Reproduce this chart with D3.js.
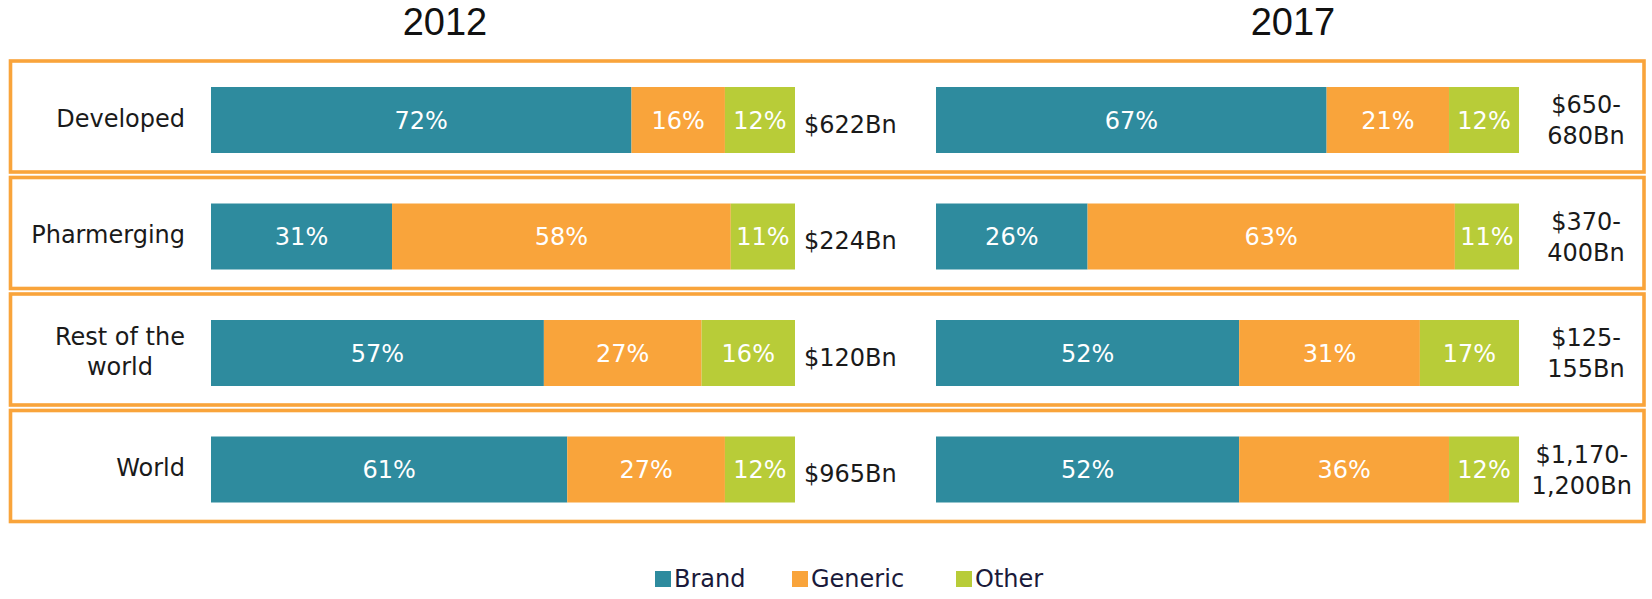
<!DOCTYPE html>
<html>
<head>
<meta charset="utf-8">
<script src="https://cdn.jsdelivr.net/npm/d3@7"></script>
<style>
  html, body { margin: 0; padding: 0; background: #fff; }
  svg { display: block; }
</style>
</head>
<body>
<svg id="chart" width="1652" height="599"></svg>
<script>
// ---- data ----
const categories = ["Developed", "Pharmerging", "Rest of the world", "World"];
const categoryLines = [["Developed"], ["Pharmerging"], ["Rest of the", "world"], ["World"]];
const seriesNames = ["Brand", "Generic", "Other"];
const brand2012 = [72, 31, 57, 61];
const generic2012 = [16, 58, 27, 27];
const other2012 = [12, 11, 16, 12];
const brand2017 = [67, 26, 52, 52];
const generic2017 = [21, 63, 31, 36];
const other2017 = [12, 11, 17, 12];
const spend2012 = [["$622Bn"], ["$224Bn"], ["$120Bn"], ["$965Bn"]];
const spend2017 = [["$650-", "680Bn"], ["$370-", "400Bn"], ["$125-", "155Bn"], ["$1,170-", "1,200Bn"]];
const years = ["2012", "2017"];

// ---- styles ----
const colors = { Brand: "#2E8B9E", Generic: "#F9A43B", Other: "#B8CC38" };
const borderColor = "#F9A43B";
const font = "'DejaVu Sans', Verdana, sans-serif";
const fs = 24;

const svg = d3.select("#chart");

// row scale
const step = 116.5;
const y = d3.scaleBand().domain(categories).range([61, 61 + step * categories.length]).paddingInner(0).paddingOuter(0);
const boxH = 111, barOff = 26, barH = 66;

const x2012 = d3.scaleLinear().domain([0, 100]).range([211, 795]);
const x2017 = d3.scaleLinear().domain([0, 100]).range([936, 1519]);

// boxes
svg.append("g").selectAll("rect").data(categories).join("rect")
  .attr("x", 10.5).attr("y", d => y(d))
  .attr("width", 1644 - 10.5).attr("height", boxH)
  .attr("fill", "none").attr("stroke", borderColor).attr("stroke-width", 3.6);

// titles
const titleX = [445, 1293];
svg.append("g").selectAll("text").data(years).join("text")
  .attr("x", (d, i) => titleX[i]).attr("y", 35)
  .attr("text-anchor", "middle")
  .attr("font-family", "'Liberation Sans', Arial, sans-serif")
  .attr("font-size", 38).attr("fill", "#111")
  .text(d => d);

function rows(b, g, o) {
  return categories.map((c, i) => ({ cat: c, Brand: b[i], Generic: g[i], Other: o[i] }));
}
const stack = d3.stack().keys(seriesNames);

function drawBars(data, xs) {
  const layers = stack(data);
  const g = svg.append("g");
  layers.forEach(layer => {
    const lg = g.append("g");
    lg.selectAll("rect").data(layer).join("rect")
      .attr("x", d => xs(d[0])).attr("width", d => xs(d[1]) - xs(d[0]))
      .attr("y", d => y(d.data.cat) + barOff).attr("height", barH)
      .attr("fill", colors[layer.key]);
    lg.selectAll("text").data(layer).join("text")
      .attr("x", d => (xs(d[0]) + xs(d[1])) / 2)
      .attr("y", d => y(d.data.cat) + barOff + barH / 2 + 8.5)
      .attr("text-anchor", "middle")
      .attr("font-family", font).attr("font-size", fs)
      .attr("fill", "#ffffff")
      .text(d => (d[1] - d[0]) + "%");
  });
}
drawBars(rows(brand2012, generic2012, other2012), x2012);
drawBars(rows(brand2017, generic2017, other2017), x2017);

// category labels (block right-aligned, lines centered)
const catRight = 185;
categoryLines.forEach((lines, i) => {
  const cy = y(categories[i]) + barOff + barH / 2;
  const g = svg.append("g");
  const n = lines.length, lh = 30;
  const t = g.selectAll("text").data(lines).join("text")
    .attr("font-family", font).attr("font-size", fs).attr("fill", "#1a1a1a")
    .attr("text-anchor", "middle")
    .attr("y", (d, j) => cy - 2 + 8.5 + (j - (n - 1) / 2) * lh)
    .text(d => d);
  let maxW = 0;
  t.each(function () { maxW = Math.max(maxW, this.getComputedTextLength()); });
  t.attr("x", catRight - maxW / 2);
});

// 2012 spend labels
spend2012.forEach((lines, i) => {
  const cy = y(categories[i]) + barOff + barH / 2;
  svg.append("text")
    .attr("x", x2012(100) + 9).attr("y", cy + 12.5)
    .attr("font-family", font).attr("font-size", fs).attr("fill", "#1a1a1a")
    .text(lines[0]);
});

// 2017 spend labels (two centered lines, kept inside the box)
spend2017.forEach((lines, i) => {
  const cy = y(categories[i]) + barOff + barH / 2;
  const g = svg.append("g");
  const lh = 31;
  const t = g.selectAll("text").data(lines).join("text")
    .attr("font-family", font).attr("font-size", fs).attr("fill", "#1a1a1a")
    .attr("text-anchor", "middle")
    .attr("y", (d, j) => cy + 8.5 + (j - 0.5) * lh)
    .text(d => d);
  let maxW = 0;
  t.each(function () { maxW = Math.max(maxW, this.getComputedTextLength()); });
  t.attr("x", Math.min(1586, 1632 - maxW / 2));
});

// legend
const legendX = [655, 792, 956];
const lg = svg.append("g").selectAll("g").data(seriesNames).join("g")
  .attr("transform", (d, i) => `translate(${legendX[i]},571)`);
lg.append("rect").attr("width", 16).attr("height", 16).attr("fill", d => colors[d]);
lg.append("text").attr("x", 19).attr("y", 16)
  .attr("font-family", font).attr("font-size", fs).attr("fill", "#1a1a3a")
  .text(d => d);
</script>
</body>
</html>
